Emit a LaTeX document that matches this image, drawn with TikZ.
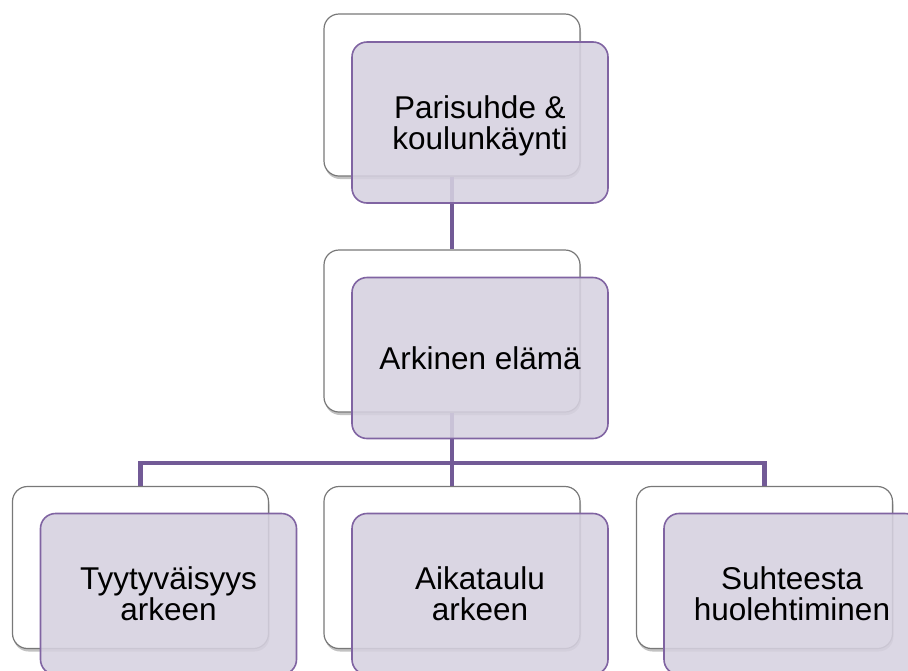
\documentclass[tikz,border=0pt]{standalone}
\usepackage{fontspec}
\setmainfont{Liberation Sans}
\usetikzlibrary{shadows,calc}
\definecolor{linkpurple}{RGB}{114,90,150}
\definecolor{boxborder}{RGB}{128,100,162}
\definecolor{boxfill}{RGB}{214,209,224}
\definecolor{backborder}{RGB}{120,120,120}
\tikzset{
  backbox/.style={draw=backborder, line width=1.2pt, fill=white, rounded corners=15pt,
    minimum width=256pt, minimum height=162pt, inner sep=0pt,
    drop shadow={shadow xshift=1pt, shadow yshift=-3pt, opacity=0.4, fill=black!60}},
  frontbox/.style={draw=boxborder, line width=1.6pt, fill=boxfill, fill opacity=0.88,
    text opacity=1, rounded corners=15pt, minimum width=256pt, minimum height=161pt,
    inner sep=0pt, align=center, text depth=0pt, font=\fontsize{31.5}{31}\selectfont},
  link/.style={draw=linkpurple, line width=4.5pt}
}
\begin{document}
\begin{tikzpicture}[x=1pt,y=-1pt]
\useasboundingbox (0,0) rectangle (908,670);
% back boxes
\node[backbox] (w1) at (452,95) {};
\node[backbox] (w2) at (452,331) {};
\node[backbox] (b1) at (140.5,567.5) {};
\node[backbox] (b2) at (452,567.5) {};
\node[backbox] (b3) at (764.5,567.5) {};
% connectors
\coordinate (bar) at (452,463);
\draw[link] (w1.south) -- (w2.north);
\draw[link] (w2.south) -- (bar);
\draw[link] (bar) -- (b2.north);
\draw[link] (b1.north) -- (b1.north |- bar) -- (b3.north |- bar) -- (b3.north);
% front boxes
\node[frontbox] (p1) at (480,122.5) {Parisuhde \&\\koulunkäynti};
\node[frontbox] (p2) at (480,358) {Arkinen elämä};
\node[frontbox] (q1) at (168.5,594) {Tyytyväisyys\\arkeen};
\node[frontbox] (q2) at (480,594) {Aikataulu\\arkeen};
\node[frontbox] (q3) at (792,594) {Suhteesta\\huolehtiminen};
\end{tikzpicture}
\end{document}
